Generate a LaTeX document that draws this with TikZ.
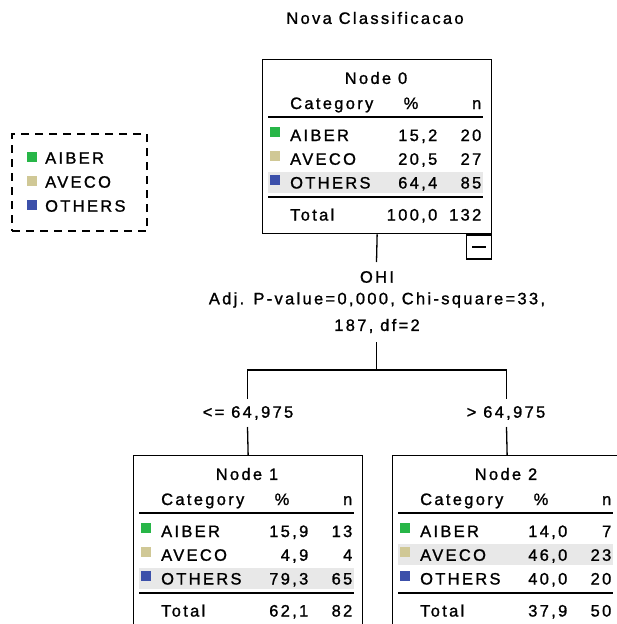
\documentclass[tikz,border=0pt]{standalone}
\usepackage{fontspec}
\setmainfont{Liberation Sans}[LetterSpace=14, FakeBold=1.2]
\definecolor{cgreen}{RGB}{40,182,72}
\definecolor{ctan}{RGB}{208,200,150}
\definecolor{cblue}{RGB}{60,80,170}
\definecolor{chl}{RGB}{232,232,232}
\tikzset{
 txt/.style={inner sep=0pt, font=\fontsize{16.5}{19}\selectfont},
 boxln/.style={line width=1.3pt},
 sepln/.style={line width=2pt},
 conn/.style={line width=1.3pt},
 sq/.style={inner sep=0pt, minimum size=10pt, fill=#1},
}
% #1 prefix, #2 x0, #3 y0, #4 title, #5 highlighted row, #6 box height, #7 rows, #8 total pct, #9 total n
\newcommand\ctable[9]{%
\begin{scope}[shift={(#2,#3)}]
 \node[draw, boxln, anchor=north west, minimum width=229pt, minimum height=#6pt, inner sep=0pt] (#1-box) at (0,0) {};
 \pgfmathsetmacro\hly{76+23.75*(#5-1)}
 \fill[chl] (6,\hly-10.5) rectangle (221,\hly+10.5);
 \node[txt] (#1-title) at (114,19) {#4};
 \node[txt, anchor=base west] (#1-cat) at (28,50) {Category};
 \node[txt, anchor=base] (#1-pct) at (149,50) {\%};
 \node[txt, anchor=base east] (#1-n) at (219.5,50) {n};
 \draw[sepln] (6,58) -- (221,58);
 \foreach \i/\lab/\col/\p/\n in {#7}{
   \pgfmathsetmacro\ry{76+23.75*(\i-1)}
   \node[sq=\col] (#1-sq-\i) at (12.5,\ry-3) {};
   \node[txt, anchor=base west] (#1-lab-\i) at (28,\ry+6) {\lab};
   \node[txt, anchor=base east] (#1-p-\i) at (175.5,\ry+6) {\p};
   \node[txt, anchor=base east] (#1-n-\i) at (219.5,\ry+6) {\n};
 }
 \draw[sepln] (6,138) -- (221,138);
 \node[txt, anchor=base west] (#1-tot) at (28,161.5) {Total};
 \node[txt, anchor=base east] (#1-totp) at (175.5,161.5) {#8};
 \node[txt, anchor=base east] (#1-totn) at (219.5,161.5) {#9};
\end{scope}}
\begin{document}
\begin{tikzpicture}[x=1pt,y=-1pt]
\useasboundingbox (0,0) rectangle (616,624);
\node[txt] (title) at (375,18) {Nova Classificacao};
% legend
\node[draw, line width=1.2pt, dash pattern=on 8pt off 6pt, minimum width=135pt, minimum height=97pt, inner sep=0pt] (legend) at (79.5,182.5) {};
\node[sq=cgreen] (lg-sq1) at (32,157) {};
\node[sq=ctan] (lg-sq2) at (32,181) {};
\node[sq=cblue] (lg-sq3) at (32,205) {};
\node[txt, anchor=west] (lg-t1) at (45,158) {AIBER};
\node[txt, anchor=west] (lg-t2) at (45,182) {AVECO};
\node[txt, anchor=west] (lg-t3) at (45,206) {OTHERS};
% nodes
\ctable{n0}{262}{59}{Node 0}{3}{174}{1/AIBER/cgreen/15{,}2/20, 2/AVECO/ctan/20{,}5/27, 3/OTHERS/cblue/64{,}4/85}{100,0}{132}
\ctable{n1}{133}{455}{Node 1}{3}{220}{1/AIBER/cgreen/15{,}9/13, 2/AVECO/ctan/4{,}9/4, 3/OTHERS/cblue/79{,}3/65}{62,1}{82}
\ctable{n2}{392}{455}{Node 2}{2}{220}{1/AIBER/cgreen/14{,}0/7, 2/AVECO/ctan/46{,}0/23, 3/OTHERS/cblue/40{,}0/20}{37,9}{50}
% toggle
\node[draw, boxln, minimum width=25pt, minimum height=24pt, inner sep=0pt, anchor=north east] (n0-tog) at (n0-box.south east) {};
\draw[line width=1.3pt] ([xshift=-7pt]n0-tog.center) -- ([xshift=7pt]n0-tog.center);
% split info
\node[txt] (ohi) at (377,277) {OHI};
\node[txt] (adj) at (377,300) {Adj. P-value=0,000, Chi-square=33,};
\node[txt] (chi) at (377,326) {187, df=2};
\node[txt] (lbl1) at (248,413) {<= 64,975};
\node[txt] (lbl2) at (506,413) {> 64,975};
% connectors
\coordinate (c0) at (376.5,262);
\coordinate (c1) at (376.5,342);
\coordinate (cj) at (376.5,370);
\coordinate (cl) at (247.5,370);
\coordinate (cr) at (506.5,370);
\coordinate (cl1) at (247.5,399);
\coordinate (cr1) at (506.5,399);
\coordinate (cl2) at (247.5,427);
\coordinate (cr2) at (506.5,427);
\draw[conn] (n0-box.south) -- (c0);
\draw[conn] (c1) -- (cj);
\draw[conn] (cl1) -- (cl) -- (cr) -- (cr1);
\draw[conn] (cl2) -- (n1-box.north);
\draw[conn] (cr2) -- (n2-box.north);
\end{tikzpicture}
\end{document}
